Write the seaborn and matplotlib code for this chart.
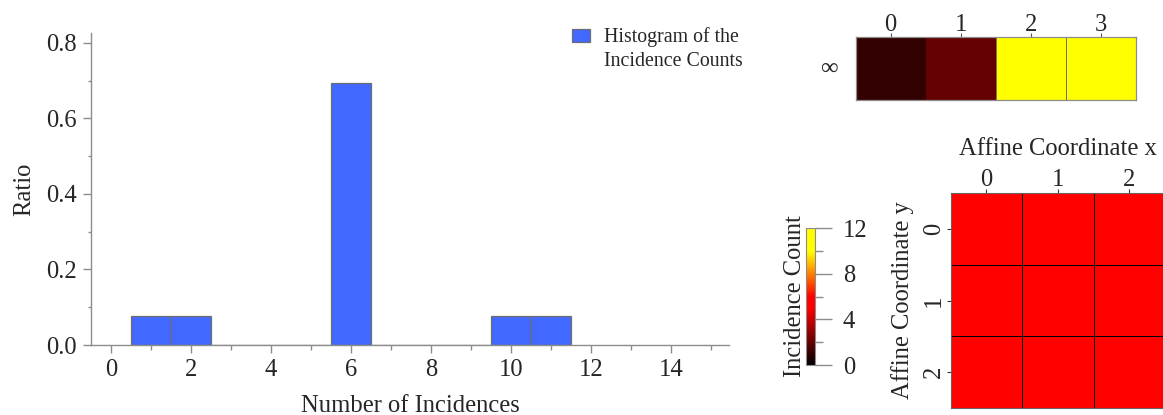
import numpy as np
import pandas as pd
import matplotlib
matplotlib.use("Agg")
import matplotlib.pyplot as plt
from matplotlib.colors import LinearSegmentedColormap
from matplotlib.patches import Patch
from matplotlib.ticker import MultipleLocator
import seaborn as sns

# Incidence counts of the 13 points of the projective plane of order 3
affine_x = [0, 1, 2]
affine_y = [0, 1, 2]
affine_counts = [[6, 6, 6],
                 [6, 6, 6],
                 [6, 6, 6]]
infinity_slopes = [0, 1, 2, 3]
infinity_counts = [1, 2, 10, 11]
all_counts = [c for row in affine_counts for c in row] + infinity_counts

hist_ticks = [0, 2, 4, 6, 8, 10, 12, 14]
ratio_ticks = [0.0, 0.2, 0.4, 0.6, 0.8]
cbar_ticks = [0, 4, 8, 12]

sns.set_style("ticks")
plt.rcParams["font.family"] = ["Liberation Serif", "DejaVu Serif"]

W, H = 1163, 415
fig = plt.figure(figsize=(W / 100, H / 100), dpi=100)
FS = 17.7
GRAY = "#8c8c8c"
BAR = "#4169ff"
BAR_EDGE = "#6e6e6e"

cmap = LinearSegmentedColormap.from_list(
    "ember",
    [(0.0, "#000000"), (5 / 12, "#ff0000"), (6 / 12, "#ff0000"),
     (10 / 12, "#ffff00"), (1.0, "#ffff00")])


def px_axes(x0, y0, x1, y1):
    return fig.add_axes([x0 / W, 1 - y1 / H, (x1 - x0) / W, (y1 - y0) / H])


# ---- histogram of incidence counts ----
ax = px_axes(91, 33, 729, 345)
sns.histplot(x=all_counts, discrete=True, stat="probability",
             color=BAR, edgecolor=BAR_EDGE, linewidth=0.9,
             alpha=1, ax=ax)
ax.set_xlim(-0.5, 15.45)
ax.set_ylim(0, 0.826)
ax.set_xticks(hist_ticks)
ax.set_yticks(ratio_ticks)
ax.set_yticklabels([f"{v:.1f}" for v in ratio_ticks])
ax.xaxis.set_minor_locator(MultipleLocator(1))
ax.yaxis.set_minor_locator(MultipleLocator(0.1))
ax.set_xlabel("Number of Incidences", fontsize=FS, labelpad=10)
ax.set_ylabel("Ratio", fontsize=FS, labelpad=8)
for s in ["top", "right"]:
    ax.spines[s].set_visible(False)
for s in ["left", "bottom"]:
    ax.spines[s].set_color(GRAY)
    ax.spines[s].set_linewidth(1.0)
ax.tick_params(axis="both", which="major", labelsize=FS, color=GRAY,
               length=6, width=1.0, pad=4)
ax.tick_params(axis="x", which="minor", color=GRAY, length=3.6, width=1.0)
ax.tick_params(axis="y", which="minor", color=GRAY, length=2.5, width=1.0)

# legend: patch sits beside the first line of the two-line caption
handles = [Patch(facecolor=BAR, edgecolor=BAR_EDGE, linewidth=0.9),
           Patch(facecolor="none", edgecolor="none")]
leg = ax.legend(handles, ["Histogram of the", "Incidence Counts"],
                loc="upper left", bbox_to_anchor=(572 / W, 1 - 27.5 / H),
                bbox_transform=fig.transFigure, frameon=False,
                fontsize=14.3, borderpad=0, borderaxespad=0,
                handlelength=0.9, handleheight=0.65, handletextpad=0.7,
                labelspacing=0.23)

# ---- points at infinity ----
ax_inf = px_axes(855.7, 36.7, 1135.7, 100)
inf_df = pd.DataFrame([infinity_counts], index=["\u221e"],
                      columns=infinity_slopes)
sns.heatmap(inf_df, cmap=cmap, vmin=0, vmax=12, cbar=False, ax=ax_inf,
            linewidths=0.7, linecolor=GRAY)
mesh = ax_inf.collections[0]
face = [cmap(v / 12) for v in infinity_counts]
mesh.set_edgecolor([face[0], face[1], "#7a7a5a", "#6e6e6e"])
ax_inf.xaxis.tick_top()
ax_inf.tick_params(axis="x", labelsize=FS, length=3, color="#555555",
                   pad=-2.5)
ax_inf.tick_params(axis="y", labelsize=FS, length=0, pad=13)
for lbl in ax_inf.get_xticklabels() + ax_inf.get_yticklabels():
    lbl.set_rotation(0)
    lbl.set_va("center")
for lbl in ax_inf.get_xticklabels():
    lbl.set_va("bottom")
for s in ax_inf.spines.values():
    s.set_visible(True)
    s.set_color(GRAY)
    s.set_linewidth(0.9)
ax_inf.set_xlabel("")
ax_inf.set_ylabel("")

# ---- affine points ----
ax_aff = px_axes(950.7, 193.3, 1165.1, 407.7)
cax = px_axes(806, 228, 815, 365)
aff_df = pd.DataFrame(affine_counts, index=affine_y, columns=affine_x)
sns.heatmap(aff_df, cmap=cmap, vmin=0, vmax=12, ax=ax_aff, cbar_ax=cax,
            linewidths=0.55, linecolor="black", square=False)
ax_aff.xaxis.tick_top()
ax_aff.xaxis.set_label_position("top")
ax_aff.set_xlabel("Affine Coordinate x", fontsize=FS, labelpad=10)
ax_aff.set_ylabel("Affine Coordinate y", fontsize=FS, labelpad=6.5)
ax_aff.tick_params(axis="x", labelsize=FS, length=3, color="#333333",
                   pad=-1.5)
ax_aff.tick_params(axis="y", labelsize=FS, length=3, color="#333333",
                   pad=1)
for lbl in ax_aff.get_xticklabels():
    lbl.set_rotation(0)
for lbl in ax_aff.get_yticklabels():
    lbl.set_rotation(90)
    lbl.set_va("center")
for s in ax_aff.spines.values():
    s.set_visible(True)
    s.set_color("#666666")
    s.set_linewidth(0.8)

cbar = ax_aff.collections[0].colorbar
cbar.set_ticks(cbar_ticks)
cax.yaxis.set_minor_locator(MultipleLocator(2))
cax.yaxis.set_ticks_position("right")
cax.tick_params(which="major", labelsize=FS, length=12, width=1.0,
                color=GRAY, pad=8)
cax.tick_params(which="minor", length=6, width=1.0, color=GRAY)
cbar.outline.set_edgecolor(GRAY)
cbar.outline.set_linewidth(0.8)
cax.yaxis.set_label_position("left")
cax.set_ylabel("Incidence Count", fontsize=FS, labelpad=0)

fig.savefig("out.png", dpi=100)
